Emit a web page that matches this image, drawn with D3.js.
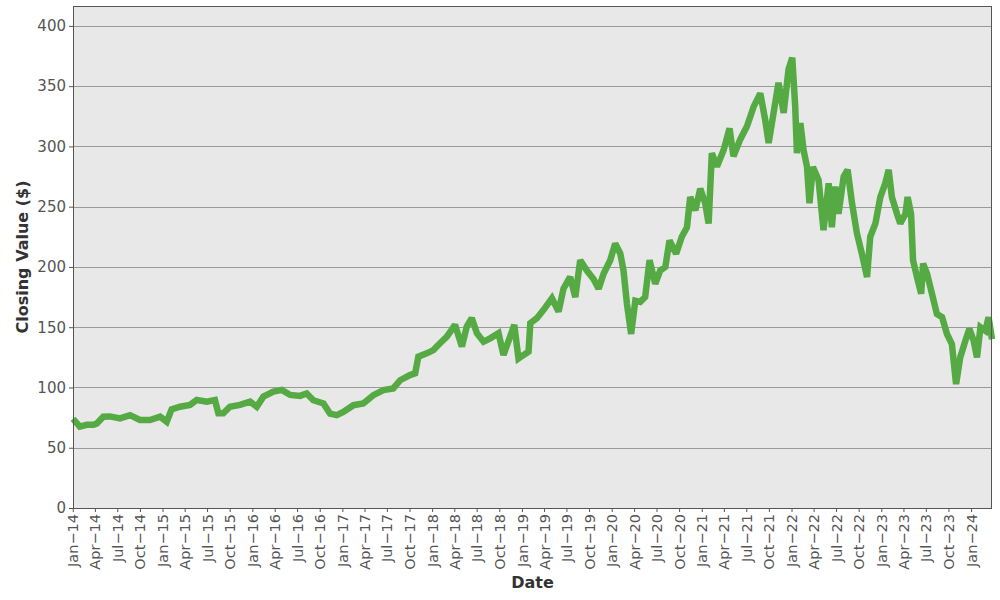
<!DOCTYPE html>
<html>
<head>
<meta charset="utf-8">
<script src="https://cdn.jsdelivr.net/npm/d3@7"></script>
<style>
  body { margin: 0; background: #fff; }
  text { font-family: "DejaVu Sans", sans-serif; }
</style>
</head>
<body>
<div id="chart"></div>
<script>
// closing values, roughly every few weeks
const dates = [
  "2014-01-02","2014-01-30","2014-02-27","2014-03-26","2014-04-08","2014-05-05","2014-06-01","2014-07-12",
  "2014-08-22","2014-10-01","2014-11-11","2014-12-22","2015-01-18","2015-02-07","2015-03-13","2015-04-23",
  "2015-05-20","2015-06-30","2015-08-02","2015-08-16","2015-09-05","2015-10-02","2015-11-12","2015-12-23",
  "2016-01-19","2016-02-15","2016-03-27","2016-04-30","2016-06-03","2016-07-13","2016-08-09","2016-09-05",
  "2016-10-16","2016-11-12","2016-12-09","2017-01-05","2017-02-15","2017-03-27","2017-05-07","2017-06-17",
  "2017-07-27","2017-08-24","2017-10-03","2017-10-24","2017-11-06","2017-12-10","2018-01-06","2018-02-02",
  "2018-03-02","2018-04-04","2018-05-02","2018-05-22","2018-06-11","2018-07-02","2018-07-29","2018-08-25",
  "2018-09-28","2018-10-18","2018-11-14","2018-12-01","2018-12-18","2019-01-08","2019-01-28","2019-02-04",
  "2019-03-03","2019-03-30","2019-05-03","2019-05-30","2019-06-19","2019-07-16","2019-08-06","2019-08-26",
  "2019-09-22","2019-10-19","2019-11-09","2019-11-29","2019-12-26","2020-01-15","2020-02-05","2020-02-18",
  "2020-03-03","2020-03-20","2020-04-06","2020-04-26","2020-05-16","2020-06-03","2020-06-26","2020-07-16",
  "2020-08-06","2020-08-23","2020-09-19","2020-10-12","2020-11-02","2020-11-15","2020-12-06","2020-12-26",
  "2021-01-15","2021-01-29","2021-02-11","2021-03-04","2021-03-31","2021-04-24","2021-05-10","2021-06-06",
  "2021-07-04","2021-07-31","2021-08-27","2021-09-16","2021-09-30","2021-10-20","2021-11-09","2021-11-30",
  "2021-12-20","2022-01-04","2022-01-16","2022-01-23","2022-02-06","2022-02-19","2022-03-05","2022-03-15",
  "2022-03-29","2022-04-21","2022-05-11","2022-06-01","2022-06-14","2022-06-28","2022-07-11","2022-08-01",
  "2022-08-17","2022-09-04","2022-09-24","2022-10-14","2022-11-04","2022-11-17","2022-12-08","2022-12-28",
  "2023-01-17","2023-01-31","2023-02-13","2023-03-06","2023-03-19","2023-04-09","2023-04-18","2023-05-02",
  "2023-05-10","2023-05-26","2023-06-12","2023-06-20","2023-07-06","2023-07-26","2023-08-15","2023-09-05",
  "2023-09-25","2023-10-15","2023-11-01","2023-11-18","2023-12-09","2023-12-25","2024-01-11","2024-01-25",
  "2024-02-08","2024-02-28","2024-03-12","2024-03-26"
];
const closes = [
  74, 67.5, 69, 69, 70, 75.8, 76, 74.4,
  77, 73, 73, 75.8, 71.6, 81.9, 84, 85.5,
  89.6, 88.2, 89.6, 78.6, 78.6, 84, 85.5, 88.2,
  84, 92.4, 96.5, 98, 93.8, 93, 95, 89.4,
  86.7, 78.3, 77, 79.7, 85.3, 86.7, 93.6, 97.8,
  99.2, 106, 110.3, 111.7, 125.6, 128.3, 131, 136.7,
  142.2, 152, 134, 150.6, 157.5, 145, 138, 140.8,
  145, 127, 142.2, 152, 124, 127, 129.7, 153.3,
  157.5, 164.4, 174, 163, 182, 191.7, 175, 205.6,
  197, 190, 182, 194.4, 205.6, 219.4, 211, 197,
  169.4, 144.4, 172, 171, 175, 205.6, 186, 197,
  200, 222, 211, 225, 233, 258, 247, 265,
  252.8, 236, 294.4, 283.3, 297, 315, 291.7, 305.6,
  316.7, 333, 344, 322, 302.8, 327.8, 352.8, 327.8,
  364, 373.6, 333, 294.4, 319.4, 297, 283, 252.8,
  283, 272, 230.6, 269.4, 233, 266.7, 244, 275,
  280.6, 252.8, 227.8, 211, 191.7, 225, 236, 258,
  269.4, 280.6, 258, 244, 236, 244, 258, 244,
  205.6, 191.7, 177.8, 202.8, 194.4, 177.8, 161, 158.3,
  144.4, 136, 102.8, 125, 139, 148.6, 139, 125,
  150, 147, 158.3, 140
];
const yTicks = [0, 50, 100, 150, 200, 250, 300, 350, 400];
const yMax = 416.5;

const width = 1000;
const height = 600;
const margin = {top: 6, right: 8, bottom: 92, left: 73};

const parse = d3.timeParse("%Y-%m-%d");
const data = dates.map((d, i) => ({date: parse(d), value: closes[i]}));

const svg = d3.select("#chart")
  .append("svg")
    .attr("width", width)
    .attr("height", height);

const x = d3.scaleTime()
  .domain(d3.extent(data, d => d.date))
  .range([margin.left, width - margin.right]);

const y = d3.scaleLinear()
  .domain([0, yMax])
  .range([height - margin.bottom, margin.top]);

// panel background
svg.append("rect")
  .attr("x", margin.left)
  .attr("y", margin.top)
  .attr("width", width - margin.right - margin.left)
  .attr("height", height - margin.bottom - margin.top)
  .attr("fill", "#e8e8e8");

// horizontal grid
svg.append("g")
  .selectAll("line")
  .data(yTicks)
  .join("line")
    .attr("x1", margin.left)
    .attr("x2", width - margin.right)
    .attr("y1", d => Math.round(y(d)) + 0.5)
    .attr("y2", d => Math.round(y(d)) + 0.5)
    .attr("stroke", "#9a9a9a")
    .attr("stroke-width", 1);

// quarterly ticks
const quarters = d3.timeMonth.every(3).range(new Date(2014, 0, 1), new Date(2024, 1, 1));
const fmt = d3.timeFormat("%b");
const fmtY = d3.timeFormat("%y");

const xAxis = svg.append("g")
  .attr("transform", `translate(0,${height - margin.bottom})`)
  .call(d3.axisBottom(x)
    .tickValues(quarters)
    .tickSize(4)
    .tickFormat(d => fmt(d) + "\u2212" + fmtY(d)));
xAxis.select(".domain").remove();
xAxis.selectAll(".tick line").attr("stroke", "#555");
xAxis.selectAll(".tick text")
  .attr("transform", "rotate(-90)")
  .attr("x", -6)
  .attr("y", 0)
  .attr("dy", "0.35em")
  .style("text-anchor", "end")
  .attr("fill", "#555")
  .style("font-size", "14.5px")
  .style("font-family", "DejaVu Sans, sans-serif");

const yAxis = svg.append("g")
  .attr("transform", `translate(${margin.left},0)`)
  .call(d3.axisLeft(y).tickValues(yTicks).tickSize(4).tickPadding(3));
yAxis.select(".domain").remove();
yAxis.selectAll(".tick line").attr("stroke", "#555");
yAxis.selectAll(".tick text")
  .attr("fill", "#555")
  .style("font-size", "15px")
  .style("font-family", "DejaVu Sans, sans-serif");

// the price line
const line = d3.line()
  .x(d => x(d.date))
  .y(d => y(d.value));

svg.append("path")
  .datum(data)
  .attr("d", line)
  .attr("fill", "none")
  .attr("stroke", "#55aa44")
  .attr("stroke-width", 6.5)
  .attr("stroke-linejoin", "miter")
  .attr("stroke-miterlimit", 2);

// panel frame
svg.append("rect")
  .attr("x", margin.left + 0.5)
  .attr("y", margin.top + 0.5)
  .attr("width", width - margin.right - margin.left - 1)
  .attr("height", height - margin.bottom - margin.top)
  .attr("fill", "none")
  .attr("stroke", "#555")
  .attr("stroke-width", 1);

// axis titles
svg.append("text")
  .attr("x", (margin.left + width - margin.right) / 2)
  .attr("y", 588)
  .attr("text-anchor", "middle")
  .attr("fill", "#333")
  .style("font-size", "16px")
  .style("font-weight", "bold")
  .text("Date");

svg.append("text")
  .attr("transform", `translate(28,${(margin.top + height - margin.bottom) / 2}) rotate(-90)`)
  .attr("text-anchor", "middle")
  .attr("fill", "#333")
  .style("font-size", "16px")
  .style("font-weight", "bold")
  .text("Closing Value ($)");
</script>
</body>
</html>
